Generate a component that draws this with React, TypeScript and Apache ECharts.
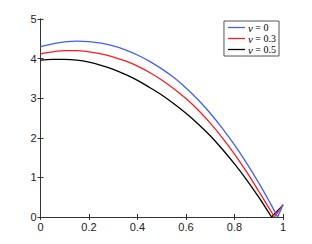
import React, { useEffect, useRef } from "react";
import * as echarts from "echarts";

const xTicks = [0, 0.2, 0.4, 0.6, 0.8, 1];
const xCommon = [0, 0.05, 0.1, 0.15, 0.2, 0.25, 0.3, 0.35, 0.4, 0.45, 0.5, 0.55, 0.6, 0.65, 0.7, 0.75, 0.8, 0.85, 0.9, 0.95];
const seriesNames = ["ν = 0", "ν = 0.3", "ν = 0.5"];
const nu0 = [4.30, 4.37, 4.42, 4.44, 4.43, 4.39, 4.32, 4.22, 4.09, 3.93, 3.74, 3.52, 3.26, 2.96, 2.62, 2.24, 1.82, 1.36, 0.86, 0.32];
const nu03 = [4.12, 4.17, 4.20, 4.20, 4.17, 4.12, 4.04, 3.94, 3.81, 3.65, 3.46, 3.24, 2.99, 2.70, 2.37, 2.00, 1.59, 1.14, 0.65, 0.15];
const nu05 = [3.96, 3.98, 3.98, 3.96, 3.91, 3.83, 3.73, 3.60, 3.45, 3.27, 3.08, 2.86, 2.62, 2.35, 2.05, 1.71, 1.34, 0.94, 0.50, 0.03];
const cuspX = [0.978, 0.965, 0.953];
const cuspY = [0, 0, 0];
const endX = [1, 1, 1];
const endY = [0.31, 0.31, 0.30];
const colors = ["#3f5fff", "#ff1a1a", "#000000"];

export default function App() {
  const ref = useRef<HTMLDivElement>(null);
  useEffect(() => {
    if (!ref.current) return;
    const chart = echarts.init(ref.current, null, { renderer: "svg" });
    const all = [nu0, nu03, nu05];
    const series: any[] = [];
    all.forEach((vals, i) => {
      const common = {
        name: seriesNames[i],
        type: "line",
        showSymbol: false,
        lineStyle: { color: colors[i], width: 1.3 },
        itemStyle: { color: colors[i] },
        z: 3 - i,
      };
      series.push({
        ...common,
        smooth: 0.4,
        data: [...vals.map((v, j) => [xCommon[j], v]), [cuspX[i], cuspY[i]]],
      });
      series.push({
        ...common,
        smooth: false,
        data: [[cuspX[i], cuspY[i]], [endX[i], endY[i]]],
      });
    });
    const axisLine = { show: true, lineStyle: { color: "#333", width: 1 } };
    const axisTick = { show: true, inside: true, length: 3, lineStyle: { color: "#333" } };
    const labelStyle = { color: "#222", fontSize: 11, fontFamily: "Liberation Sans, Arial, sans-serif" };
    chart.setOption({
      animation: false,
      grid: { left: 40.5, right: 29, top: 19, bottom: 27, containLabel: false },
      legend: {
        orient: "vertical",
        right: 33,
        top: 21,
        data: seriesNames,
        backgroundColor: "#fff",
        borderColor: "#555",
        borderWidth: 1,
        borderRadius: 0,
        padding: [1, 3, 1, 4],
        itemGap: 0,
        itemWidth: 17,
        itemHeight: 8,
        icon: "path://M0,4 L16,4 L16,5.2 L0,5.2 Z",
        formatter: (name: string) => `{i|ν}{r|${name.slice(1)}}`,
        textStyle: {
          fontFamily: "Liberation Serif, serif",
          fontSize: 10,
          lineHeight: 8,
          color: "#000",
          padding: [0, 0, 0, -2],
          rich: {
            i: { fontStyle: "italic", fontFamily: "Liberation Serif, serif", fontSize: 11, lineHeight: 8 },
            r: { fontFamily: "Liberation Serif, serif", fontSize: 10, lineHeight: 8 },
          },
        },
      },
      xAxis: [
        {
          type: "value", min: 0, max: 1, interval: 0.2,
          axisLine, axisTick, splitLine: { show: false },
          axisLabel: { ...labelStyle, margin: 4, formatter: (v: number) => (xTicks.includes(v) ? String(v) : "") },
        },
        {
          type: "value", position: "top", min: 0, max: 1, interval: 0.2,
          axisLine, axisTick, splitLine: { show: false }, axisLabel: { show: false },
        },
      ],
      yAxis: [
        {
          type: "value", min: 0, max: 5, interval: 1,
          axisLine, axisTick, splitLine: { show: false },
          axisLabel: { ...labelStyle, margin: 4 },
        },
        {
          type: "value", position: "right", min: 0, max: 5, interval: 1,
          axisLine, axisTick, splitLine: { show: false }, axisLabel: { show: false },
        },
      ],
      series,
    });
    return () => chart.dispose();
  }, []);
  return <div ref={ref} style={{ position: "fixed", left: 0, top: 0, width: 312, height: 244, background: "#fff" }} />;
}
